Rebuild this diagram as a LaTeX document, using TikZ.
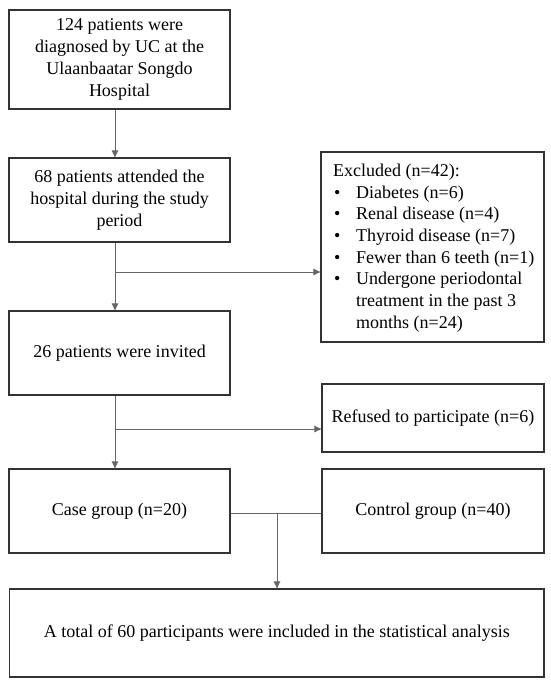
\documentclass[tikz,border=0pt]{standalone}
\usepackage{fontspec}
\setmainfont{Liberation Serif}
\usetikzlibrary{arrows.meta}
\newcommand\mybul{\makebox[23pt][l]{\hspace{1pt}\textbullet}}
\begin{document}
\begin{tikzpicture}[x=1pt,y=-1pt,
  box/.style={draw=black!80, line width=1.3pt, rectangle, align=center,
    font=\fontsize{18}{21.8}\selectfont, inner sep=0pt},
  txt/.style={align=left, font=\fontsize{18}{21.7}\selectfont, inner sep=0pt},
  conn/.style={draw=black!60, line width=0.9pt},
  arr/.style={conn, -{Triangle[length=7pt,width=6.5pt]}}]
\useasboundingbox (0,0) rectangle (550,682);
\fill[white] (0,0) rectangle (550,682);
\node[box, minimum width=221pt, minimum height=99pt] (b1) at (119.5,59.5)
  {124 patients were\\diagnosed by UC at the\\Ulaanbaatar Songdo\\Hospital};
\node[box, minimum width=221pt, minimum height=84pt] (b2) at (119.5,200)
  {68 patients attended the\\hospital during the study\\period};
\node[box, minimum width=223pt, minimum height=190pt] (excl) at (432.5,247) {};
\node[txt, anchor=west] (excltxt) at (333,248)
  {Excluded (n=42):\\
   \mybul Diabetes (n=6)\\
   \mybul Renal disease (n=4)\\
   \mybul Thyroid disease (n=7)\\
   \mybul Fewer than 6 teeth (n=1)\\
   \mybul Undergone periodontal\\
   \hspace*{23pt}treatment in the past 3\\
   \hspace*{23pt}months (n=24)};
\node[box, minimum width=221pt, minimum height=84pt] (b3) at (119.5,353)
  {26 patients were invited};
\node[box, minimum width=222pt, minimum height=68pt] (ref) at (433,418)
  {Refused to participate (n=6)};
\node[box, minimum width=221pt, minimum height=84pt] (case) at (119.5,511)
  {Case group (n=20)};
\node[box, minimum width=222pt, minimum height=84pt] (ctrl) at (433,511)
  {Control group (n=40)};
\node[box, minimum width=534.5pt, minimum height=88pt] (fin) at (276.75,633)
  {A total of 60 participants were included in the statistical analysis};
\coordinate (sp) at (115,0);
\coordinate (j1) at (115,272);
\coordinate (j2) at (115,429);
\coordinate (m) at (277,513);
\draw[arr] (b1.south -| sp) -- (b2.north -| sp);
\draw[arr] (b2.south -| sp) -- (b3.north -| sp);
\draw[arr] (j1) -- (j1 -| excl.west);
\draw[arr] (b3.south -| sp) -- (case.north -| sp);
\draw[arr] (j2) -- (j2 -| ref.west);
\draw[conn] (case.east |- m) -- (ctrl.west |- m);
\draw[arr] (m) -- (fin.north -| m);
\end{tikzpicture}
\end{document}
